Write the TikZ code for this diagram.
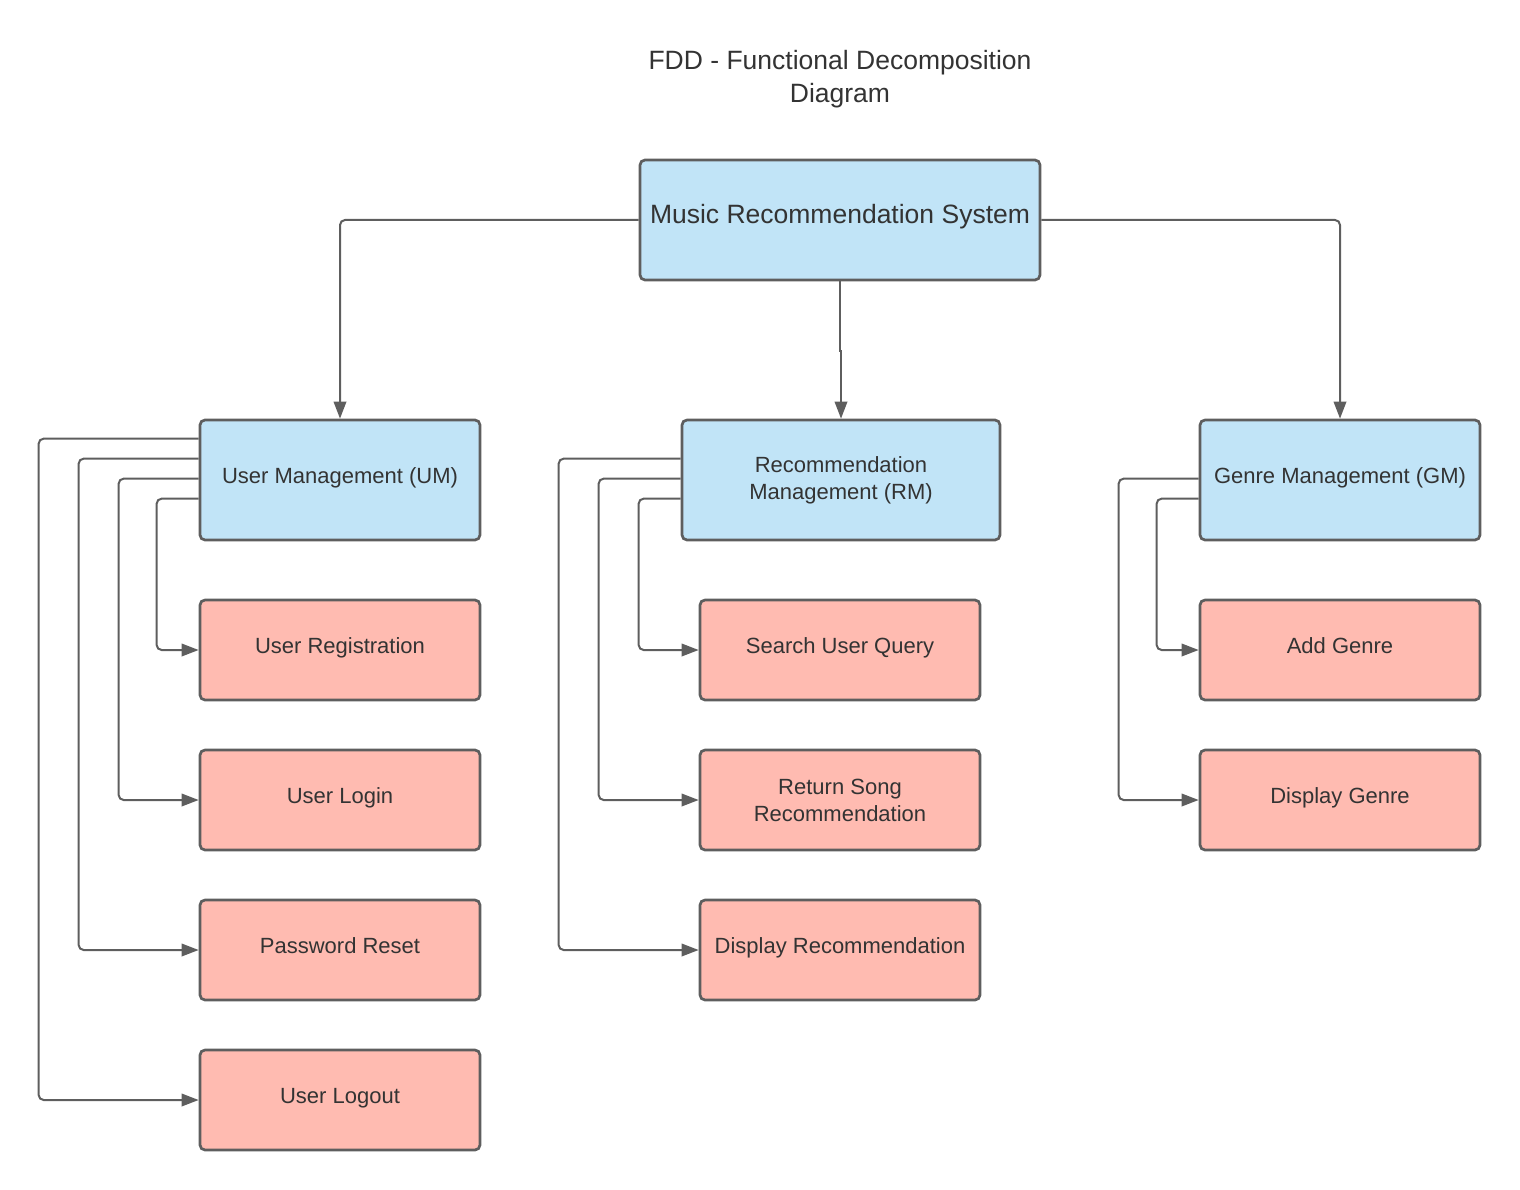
\documentclass[tikz,border=0pt]{standalone}
\usepackage{fontspec}
\setmainfont{Liberation Sans}
\usetikzlibrary{arrows.meta}
\definecolor{boxblue}{HTML}{C1E4F7}
\definecolor{boxpink}{HTML}{FFBBB1}
\definecolor{edge}{HTML}{5E5E5E}
\definecolor{txt}{HTML}{333333}
\tikzset{
  base/.style={draw=edge, line width=2.7pt, rounded corners=5pt, text=txt, align=center, inner sep=0pt},
  oneline/.style={text height=16pt, text depth=9.2pt},
  parentbox/.style={base, fill=boxblue, font=\fontsize{22}{27}\selectfont},
  childbox/.style={base, fill=boxpink, minimum width=280pt, minimum height=100pt, font=\fontsize{22}{27}\selectfont},
  conn/.style={draw=edge, line width=2pt, rounded corners=5pt, -{Triangle[length=17pt,width=12.5pt]}},
}
\begin{document}
\begin{tikzpicture}[x=1pt,y=-1pt]
\useasboundingbox (0,0) rectangle (1520,1190);
\node[text=txt, align=center, font=\fontsize{26.5}{33}\selectfont] (title) at (840,79) {FDD - Functional Decomposition\\Diagram};
\node[parentbox, minimum width=400pt, minimum height=120pt, font=\fontsize{26.5}{32}\selectfont, text height=19pt, text depth=12pt] (MRS) at (840,220) {Music Recommendation System};
\node[parentbox, oneline, minimum width=280pt, minimum height=120pt] (UM) at (340,480) {User Management (UM)};
\node[parentbox, minimum width=318pt, minimum height=120pt] (RM) at (841,480) {Recommendation\\Management (RM)};
\node[parentbox, oneline, minimum width=280pt, minimum height=120pt] (GM) at (1340,480) {Genre Management (GM)};
\node[childbox, oneline] (UR) at (340,650) {User Registration};
\node[childbox, oneline] (UL) at (340,800) {User Login};
\node[childbox, oneline] (PR) at (340,950) {Password Reset};
\node[childbox, oneline] (UO) at (340,1100) {User Logout};
\node[childbox, oneline] (SQ) at (840,650) {Search User Query};
\node[childbox] (RS) at (840,800) {Return Song\\Recommendation};
\node[childbox, oneline] (DR) at (840,950) {Display Recommendation};
\node[childbox, oneline] (AG) at (1340,650) {Add Genre};
\node[childbox, oneline] (DG) at (1340,800) {Display Genre};
% top level
\draw[conn] (MRS.west) -| (UM.north);
\draw[conn] (MRS.east) -| (GM.north);
\draw[conn, rounded corners=0pt] (MRS.south) -- ++(0,70) -| (RM.north);
% UM
\draw[conn] ([yshift=-20pt]UM.north west) -- ++(-160,0) |- (UO.west);
\draw[conn] ([yshift=-40pt]UM.north west) -- ++(-120,0) |- (PR.west);
\draw[conn] ([yshift=-60pt]UM.north west) -- ++(-80,0) |- (UL.west);
\draw[conn] ([yshift=-80pt]UM.north west) -- ++(-42,0) |- (UR.west);
% RM
\draw[conn] ([yshift=-40pt]RM.north west) -- ++(-122,0) |- (DR.west);
\draw[conn] ([yshift=-60pt]RM.north west) -- ++(-82,0) |- (RS.west);
\draw[conn] ([yshift=-80pt]RM.north west) -- ++(-42,0) |- (SQ.west);
% GM
\draw[conn] ([yshift=-60pt]GM.north west) -- ++(-80,0) |- (DG.west);
\draw[conn] ([yshift=-80pt]GM.north west) -- ++(-42,0) |- (AG.west);
\end{tikzpicture}
\end{document}
